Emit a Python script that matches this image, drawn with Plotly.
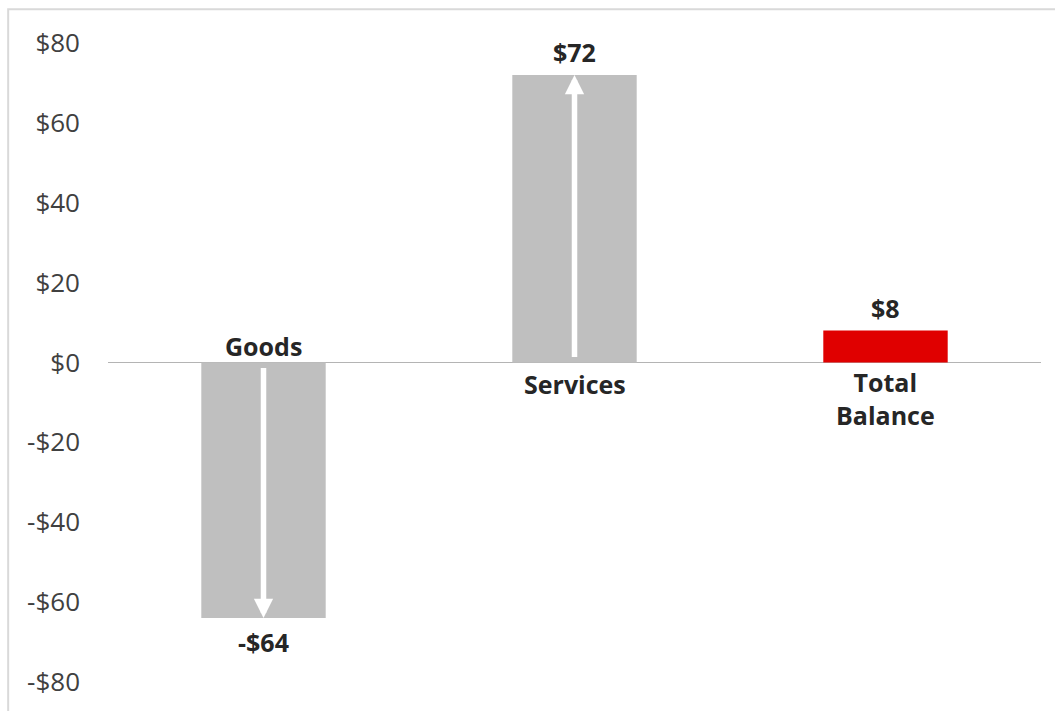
import plotly.graph_objects as go

# ---- data ----
categories = ["Goods", "Services", "Total Balance"]
values = [-64, 72, 8]
category_labels = ["Goods", "Services", "Total<br>Balance"]
value_labels = ["-$64", "$72", "$8"]
bar_colors = ["#bfbfbf", "#bfbfbf", "#e00000"]
show_arrow = [True, True, False]
tick_values = [-80, -60, -40, -20, 0, 20, 40, 60, 80]
tick_labels = ["-$80", "-$60", "-$40", "-$20", "$0", "$20", "$40", "$60", "$80"]

FONT = "Open Sans"
LABEL_COLOR = "#262626"

fig = go.Figure()
fig.add_trace(go.Bar(
    x=categories, y=values, width=0.4,
    marker=dict(color=bar_colors, line=dict(width=0)),
    hoverinfo="skip",
))

annotations = []
for cat, v, clab, vlab, arr in zip(categories, values, category_labels, value_labels, show_arrow):
    nlines = clab.count("<br>") + 1
    # category label near the zero line, opposite side of the bar
    if v < 0:
        cshift = 17
    else:
        cshift = -21 - (nlines - 1) * 15
    annotations.append(dict(
        x=cat, y=0, xref="x", yref="y", text=clab, showarrow=False,
        yanchor="middle", yshift=cshift,
        font=dict(family=FONT, size=25, color=LABEL_COLOR, weight="bold"),
    ))
    # value label at the bar end
    vshift = -24 if v < 0 else 23
    annotations.append(dict(
        x=cat, y=v, xref="x", yref="y", text=vlab, showarrow=False,
        yanchor="middle", yshift=vshift,
        font=dict(family=FONT, size=25, color=LABEL_COLOR, weight="bold"),
    ))
    if arr:
        annotations.append(dict(
            x=cat, y=v, xref="x", yref="y",
            ax=cat, ay=0, axref="x", ayref="y",
            text="", showarrow=True, arrowhead=2, arrowsize=0.7,
            arrowwidth=5.5, arrowcolor="white", startstandoff=4, standoff=0,
        ))

fig.update_layout(
    width=1055, height=711,
    margin=dict(l=108, r=14, t=43, b=26),
    paper_bgcolor="white", plot_bgcolor="white",
    showlegend=False,
    font=dict(family=FONT, color="#404040"),
    annotations=annotations,
    shapes=[dict(
        type="rect", xref="paper", yref="paper",
        x0=-0.107, x1=1.2, y0=-0.3, y1=1.053,
        line=dict(color="#d9d9d9", width=2), fillcolor="rgba(0,0,0,0)",
        layer="below",
    )],
    xaxis=dict(showticklabels=False, showgrid=False, zeroline=False,
               showline=False, ticks=""),
    yaxis=dict(range=[-80, 80], tickvals=tick_values, ticktext=tick_labels,
               showgrid=False, zeroline=True, zerolinecolor="#b4b4b4",
               zerolinewidth=1, showline=False, ticks="",
               tickfont=dict(family=FONT, size=26, color="#404040"),
               ticklabelstandoff=27),
)

fig.write_html("out.html")
